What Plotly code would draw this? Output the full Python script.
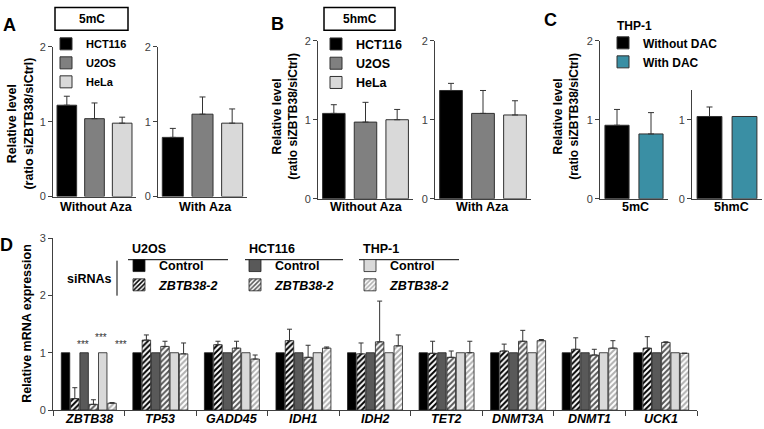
import plotly.graph_objects as go

W, H = 764, 429
FONT = "Arial, 'Liberation Sans', sans-serif"
AX = "#404040"

def px(x):
    return x / W

def py(y):
    return 1 - y / H

# ---------------- data ----------------
cell_lines = ["HCT116", "U2OS", "HeLa"]
aza_groups = ["Without Aza", "With Aza"]

a_hct116 = [1.22, 0.79]
a_hct116_err = [0.12, 0.12]
a_u2os = [1.04, 1.10]
a_u2os_err = [0.21, 0.23]
a_hela = [0.98, 0.98]
a_hela_err = [0.08, 0.19]

b_hct116 = [1.08, 1.37]
b_hct116_err = [0.11, 0.09]
b_u2os = [0.97, 1.08]
b_u2os_err = [0.25, 0.29]
b_hela = [1.00, 1.06]
b_hela_err = [0.13, 0.18]

c_marks = ["5mC", "5hmC"]
c_conditions = ["Without DAC", "With DAC"]
c_without = [0.93, 1.04]
c_without_err = [0.20, 0.12]
c_with = [0.82, 1.04]
c_with_err = [0.27, 0.0]

genes = ["ZBTB38", "TP53", "GADD45", "IDH1", "IDH2", "TET2", "DNMT3A", "DNMT1", "UCK1"]
d_u2os_ctrl = [1, 1, 1, 1, 1, 1, 1, 1, 1]
d_u2os_si = [0.20, 1.22, 1.14, 1.21, 0.98, 0.99, 1.03, 1.06, 1.08]
d_u2os_si_err = [0.19, 0.09, 0.06, 0.20, 0.19, 0.21, 0.12, 0.20, 0.20]
d_hct_ctrl = [1, 1, 1, 1, 1, 1, 1, 1, 1]
d_hct_si = [0.10, 1.11, 1.08, 0.92, 1.19, 0.92, 1.20, 0.96, 1.18]
d_hct_si_err = [0.08, 0.09, 0.12, 0.21, 0.71, 0.11, 0.19, 0.10, 0.01]
d_thp_ctrl = [1, 1, 1, 1, 1, 1, 1, 1, 1]
d_thp_si = [0.12, 0.98, 0.89, 1.08, 1.12, 1.00, 1.21, 1.08, 0.99]
d_thp_si_err = [0.01, 0.19, 0.07, 0.02, 0.19, 0.20, 0.02, 0.13, 0.0]
d_groups = ["U2OS", "HCT116", "THP-1"]
stars_y = [1.15, 1.26, 1.15]

# ---------------- styles ----------------
line_colors = {"HCT116": "#000000", "U2OS": "#808080", "HeLa": "#d9d9d9"}
c_colors = {"Without DAC": "#000000", "With DAC": "#3a8fa4"}

fig = go.Figure()


def err(e):
    return dict(type="data", array=[e], arrayminus=[0], symmetric=False,
                color="#333333", thickness=1, width=3, visible=True)


def add_triplet(ax, vals, errs, gi, legend, show):
    for name, v, e in zip(cell_lines, vals, errs):
        fig.add_trace(go.Bar(
            x=[name], y=[v[gi]], name=name, offsetgroup="g",
            marker=dict(color=line_colors[name], line=dict(color="#303030", width=1)),
            error_y=err(e[gi]), xaxis="x" + ax, yaxis="y" + ax,
            legend=legend, showlegend=show))


a_vals = [a_hct116, a_u2os, a_hela]
a_errs = [a_hct116_err, a_u2os_err, a_hela_err]
b_vals = [b_hct116, b_u2os, b_hela]
b_errs = [b_hct116_err, b_u2os_err, b_hela_err]
add_triplet("", a_vals, a_errs, 0, "legend", True)
add_triplet("2", a_vals, a_errs, 1, "legend", False)
add_triplet("3", b_vals, b_errs, 0, "legend2", True)
add_triplet("4", b_vals, b_errs, 1, "legend2", False)

c_vals = [c_without, c_with]
c_errs = [c_without_err, c_with_err]
for gi, ax in [(0, "5"), (1, "6")]:
    for cond, v, e in zip(c_conditions, c_vals, c_errs):
        fig.add_trace(go.Bar(
            x=[cond], y=[v[gi]], name=cond, offsetgroup="g",
            marker=dict(color=c_colors[cond], line=dict(color="#303030", width=1)),
            error_y=err(e[gi]) if e[gi] > 0 else dict(visible=False),
            xaxis="x" + ax, yaxis="y" + ax, legend="legend3", showlegend=(gi == 0)))

d_series = [
    ("Control", d_u2os_ctrl, None, "#000000", None, "legend4"),
    ("<i>ZBTB38-2</i>", d_u2os_si, d_u2os_si_err, "#ffffff", "#000000", "legend4"),
    ("Control", d_hct_ctrl, None, "#595959", None, "legend5"),
    ("<i>ZBTB38-2</i>", d_hct_si, d_hct_si_err, "#ffffff", "#595959", "legend5"),
    ("Control", d_thp_ctrl, None, "#d9d9d9", None, "legend6"),
    ("<i>ZBTB38-2</i>", d_thp_si, d_thp_si_err, "#ffffff", "#b0b0b0", "legend6"),
]
for name, vals, errs, col, hatch, leg in d_series:
    marker = dict(color=col, line=dict(color="#202020", width=0.8))
    if hatch:
        marker["pattern"] = dict(shape="/", fgcolor=hatch, bgcolor="#ffffff",
                                 size=4, solidity=0.5, fillmode="replace")
    fig.add_trace(go.Bar(
        x=genes, y=vals, name=name, marker=marker,
        error_y=(dict(type="data", array=list(errs), arrayminus=[0] * len(errs),
                      symmetric=False, color="#333333", thickness=1, width=2.5)
                 if errs else dict(visible=False)),
        xaxis="x7", yaxis="y7", legend=leg))

# ---------------- axes ----------------
subplots = [
    ("", 53, 136, 42, 196, 2.0, cell_lines),
    ("2", 158, 247, 42, 196, 2.0, cell_lines),
    ("3", 318, 413, 35.7, 198.3, 2.0, cell_lines),
    ("4", 435, 531, 35.7, 198.3, 2.0, cell_lines),
    ("5", 600, 668, 35.7, 198.3, 2.0, c_conditions),
    ("6", 692, 762, 86, 198.3, 1.38, c_conditions),
]
layout = {}
for ax, x0, x1, yt, yb, ymax, cats in subplots:
    layout["xaxis" + ax] = dict(
        domain=[px(x0), px(x1)], anchor="y" + ax, type="category",
        categoryorder="array", categoryarray=cats,
        showticklabels=False, ticks="", showline=True, linecolor=AX,
        linewidth=1, showgrid=False, zeroline=False, fixedrange=True)
    layout["yaxis" + ax] = dict(
        domain=[py(yb), py(yt)], anchor="x" + ax, range=[0, ymax],
        tickvals=[0, 1, 2], ticks="outside", ticklen=4, tickcolor=AX,
        tickfont=dict(family=FONT, size=11, color=AX), showline=True,
        linecolor=AX, linewidth=1, showgrid=False, zeroline=False, fixedrange=True)

layout["xaxis7"] = dict(
    domain=[px(53), px(697)], anchor="y7", type="category",
    categoryorder="array", categoryarray=genes, tickson="boundaries",
    ticks="outside", ticklen=5, tickcolor=AX, showline=True, linecolor=AX,
    linewidth=1, showgrid=False, zeroline=False, showticklabels=False, fixedrange=True)
layout["yaxis7"] = dict(
    domain=[py(415.7), py(238.7)], anchor="x7", range=[0, 3],
    tickvals=[0, 1, 2, 3], ticks="outside", ticklen=4, tickcolor=AX,
    tickfont=dict(family=FONT, size=11, color=AX), showline=True,
    linecolor=AX, linewidth=1, showgrid=False, zeroline=False, fixedrange=True)

# ---------------- legends ----------------
def leg(x, y, size):
    return dict(x=px(x), y=py(y), xanchor="left", yanchor="top", bgcolor="rgba(0,0,0,0)",
                borderwidth=0, font=dict(family=FONT, size=size, color="#000000", weight="bold"),
                itemclick=False, itemdoubleclick=False, traceorder="normal")

layout["legend"] = leg(46, 24, 11)
layout["legend2"] = leg(316, 24, 12.5)
layout["legend3"] = leg(603, 23, 12)
layout["legend4"] = leg(119, 252, 12.5)
layout["legend5"] = leg(235, 252, 12.5)
layout["legend6"] = leg(350, 252, 12.5)

# ---------------- annotations & shapes ----------------
ann = []
shapes = []

def text(x, y, s, size=12, bold=True, angle=0, xanchor="center", color="#000000"):
    ann.append(dict(x=px(x), y=py(y), xref="paper", yref="paper", text=s, showarrow=False,
                    textangle=angle, xanchor=xanchor, yanchor="middle",
                    font=dict(family=FONT, size=size, color=color,
                              weight="bold" if bold else "normal")))

for letter, x, y in [("A", 9, 20), ("B", 277.5, 19), ("C", 550, 14), ("D", 6, 246)]:
    text(x, y, letter, size=18)

ytitle = "Relative level<br>(ratio siZBTB38/siCtrl)"
text(20, 121, ytitle, size=12.5, angle=-90)
text(285, 114, ytitle, size=12, angle=-90)
text(566, 114, ytitle, size=12, angle=-90)
text(27, 327, "Relative mRNA expression", size=12.5, angle=-90)

text(96, 207, aza_groups[0], size=12.5)
text(205.5, 207, aza_groups[1], size=12.5)
text(366, 207, aza_groups[0], size=12.5)
text(482, 207, aza_groups[1], size=12.5)
text(635.5, 207, c_marks[0], size=12.5)
text(731.5, 207, c_marks[1], size=12.5)
text(615, 21, "THP-1", size=12, xanchor="left")

# boxed titles
for label, x0, x1 in [("5mC", 55, 128), ("5hmC", 324, 395)]:
    shapes.append(dict(type="rect", xref="paper", yref="paper", x0=px(x0), x1=px(x1),
                       y0=py(25), y1=py(1.5), line=dict(color="#000000", width=1.5)))
    text((x0 + x1) / 2, 13.5, label, size=12)

# D legend decorations
text(89, 281, "siRNAs", size=12.5)
shapes.append(dict(type="line", xref="paper", yref="paper", x0=px(117), x1=px(117),
                   y0=py(262), y1=py(298), line=dict(color="#000000", width=1)))
for g, (x0, x1) in zip(d_groups, [(128, 228), (245, 343), (359, 459)]):
    shapes.append(dict(type="line", xref="paper", yref="paper", x0=px(x0), x1=px(x1),
                       y0=py(261), y1=py(261), line=dict(color="#000000", width=1)))
    text(x0 + 2, 250, g, size=12.5, xanchor="left")

# gene labels
for g in genes:
    ann.append(dict(x=g, y=py(424.5), xref="x7", yref="paper", text=g, showarrow=False,
                    yanchor="middle",
                    font=dict(family=FONT, size=12.5, color="#000000", weight="bold",
                              style="italic")))

# significance stars
for xs, ys in zip([-5.5, 12.5, 32.5], stars_y):
    ann.append(dict(x=genes[0], y=ys, xref="x7", yref="y7", xshift=xs, text="***",
                    showarrow=False, yanchor="middle",
                    font=dict(family=FONT, size=10, color="#333333")))

fig.update_layout(
    **layout,
    annotations=ann, shapes=shapes,
    barmode="group", bargap=0.22, bargroupgap=0.09,
    width=W, height=H, margin=dict(l=0, r=0, t=0, b=0),
    paper_bgcolor="#ffffff", plot_bgcolor="#ffffff",
    font=dict(family=FONT, color="#000000"),
    hovermode=False,
)

fig.write_html("out.html", config={"displayModeBar": False, "staticPlot": False},
               post_script="document.body.style.margin='0px';")
